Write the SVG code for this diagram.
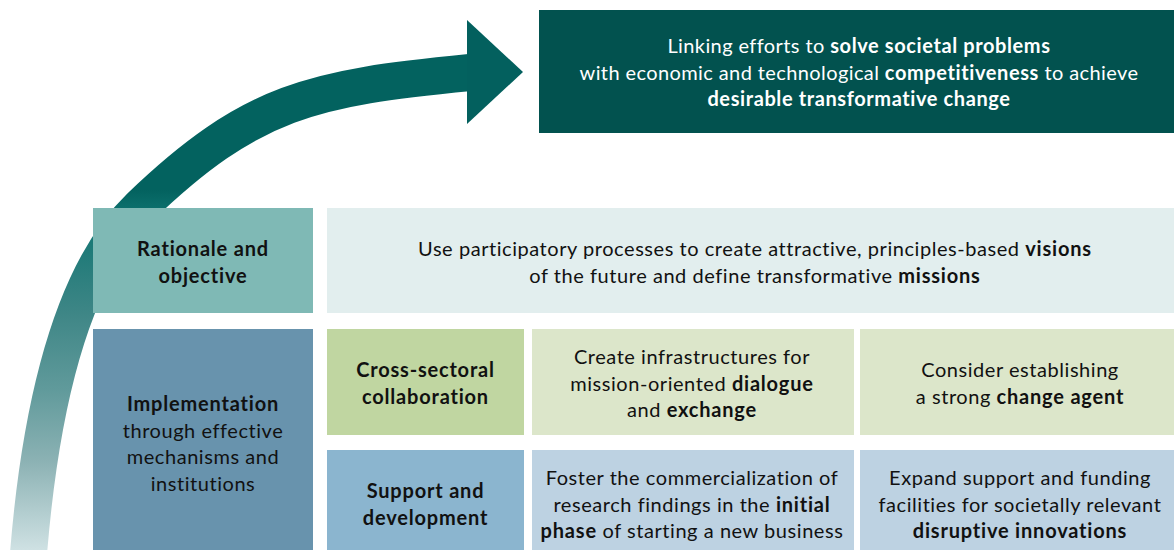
<svg xmlns="http://www.w3.org/2000/svg" width="1174" height="550" viewBox="0 0 1174 550">
  <defs>
    <linearGradient id="shaftFade" gradientUnits="userSpaceOnUse" x1="0" y1="190" x2="0" y2="552">
      <stop offset="0" stop-color="#03625f"/>
      <stop offset="0.07" stop-color="#0f7471"/>
      <stop offset="0.34" stop-color="#3e8686"/>
      <stop offset="0.55" stop-color="#609a9b"/>
      <stop offset="0.75" stop-color="#8cb2b4"/>
      <stop offset="1" stop-color="#d0e2e4"/>
    </linearGradient>
    <style>
      text { font-family: Lato, "Open Sans", "Liberation Sans", sans-serif; font-size: 20px; letter-spacing: 0.55px; fill: #111; text-anchor: middle; }
      .b { font-weight: bold; letter-spacing: 0.8px; }
      .w { fill: #ffffff; letter-spacing: 0.4px; }
      .w .b, .w.b { letter-spacing: 0.6px; }
    </style>
  </defs>

  <!-- curved progress arrow -->
  <g id="connectors">
    <path d="M 28 560 C 36.9 445 60.8 283.4 140 207 C 251.6 100 312.8 87.9 470 72.5" fill="none" stroke="url(#shaftFade)" stroke-width="37"/>
    <polygon points="467,20 523,72 467,124" fill="#03605e"/>
  </g>

  <!-- goal -->
  <g id="goal">
    <rect x="539" y="10" width="635" height="123" fill="#02524f"/>
    <text class="w" x="859" y="53">Linking efforts to <tspan class="b">solve societal problems</tspan></text>
    <text class="w" x="859" y="80">with economic and technological <tspan class="b">competitiveness</tspan> to achieve</text>
    <text class="w b" x="859" y="106">desirable transformative change</text>
  </g>

  <!-- row 1 -->
  <g id="rationale">
    <rect x="93" y="208" width="220" height="105" fill="#7fb9b5"/>
    <text class="b" x="203" y="256">Rationale and</text>
    <text class="b" x="203" y="283">objective</text>
  </g>
  <g id="vision">
    <rect x="327" y="208" width="847" height="105" fill="#e2eeee"/>
    <text x="755" y="256">Use participatory processes to create attractive, principles-based <tspan class="b">visions</tspan></text>
    <text x="755" y="283">of the future and define transformative <tspan class="b">missions</tspan></text>
  </g>

  <!-- implementation -->
  <g id="implementation">
    <rect x="93" y="329" width="220" height="221" fill="#6893ad"/>
    <text class="b" x="203" y="411">Implementation</text>
    <text x="203" y="438">through effective</text>
    <text x="203" y="464">mechanisms and</text>
    <text x="203" y="491">institutions</text>
  </g>

  <!-- cross-sectoral collaboration row -->
  <g id="cross-sectoral">
    <rect x="327" y="329" width="197" height="106" fill="#c0d6a1"/>
    <text class="b" x="425.5" y="377">Cross-sectoral</text>
    <text class="b" x="425.5" y="404">collaboration</text>
  </g>
  <g id="dialogue">
    <rect x="532" y="329" width="322" height="106" fill="#dce6ca"/>
    <text x="692" y="364">Create infrastructures for</text>
    <text x="692" y="391">mission-oriented <tspan class="b">dialogue</tspan></text>
    <text x="692" y="417">and <tspan class="b">exchange</tspan></text>
  </g>
  <g id="change-agent">
    <rect x="860" y="329" width="314" height="106" fill="#dce6ca"/>
    <text x="1020" y="377">Consider establishing</text>
    <text x="1020" y="404">a strong <tspan class="b">change agent</tspan></text>
  </g>

  <!-- support and development row -->
  <g id="support">
    <rect x="327" y="450" width="197" height="100" fill="#8bb5cf"/>
    <text class="b" x="425.5" y="498">Support and</text>
    <text class="b" x="425.5" y="525">development</text>
  </g>
  <g id="commercialization">
    <rect x="532" y="450" width="322" height="100" fill="#bdd2e2"/>
    <text x="692" y="485">Foster the commercialization of</text>
    <text x="692" y="512">research findings in the <tspan class="b">initial</tspan></text>
    <text x="692" y="538"><tspan class="b">phase</tspan> of starting a new business</text>
  </g>
  <g id="funding">
    <rect x="860" y="450" width="314" height="100" fill="#bdd2e2"/>
    <text x="1020" y="485">Expand support and funding</text>
    <text x="1020" y="512">facilities for societally relevant</text>
    <text class="b" x="1020" y="538">disruptive innovations</text>
  </g>
</svg>
